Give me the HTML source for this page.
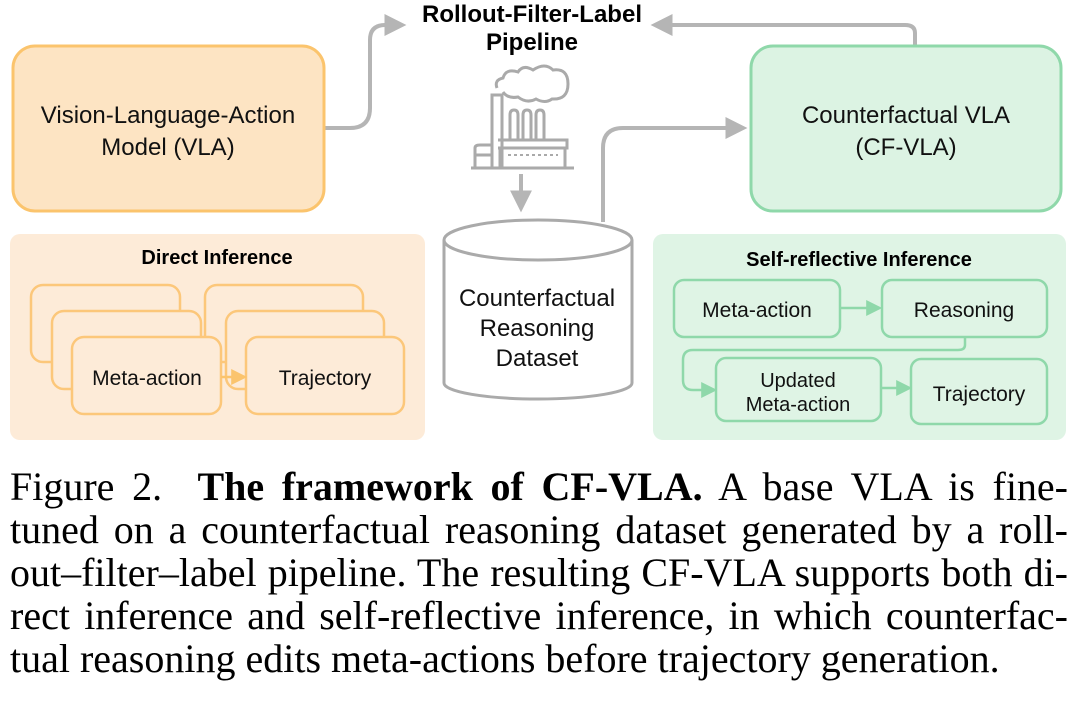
<!DOCTYPE html>
<html><head><meta charset="utf-8"><style>
html,body{margin:0;padding:0;background:#fff;width:1080px;height:710px;overflow:hidden}
svg{position:absolute;left:0;top:0}
.cap{position:absolute;left:10px;width:1058px;font-family:"Liberation Serif",serif;font-size:40px;color:#000;line-height:43px;white-space:nowrap}
.j{text-align:justify;text-align-last:justify;white-space:normal}
</style></head><body>
<svg width="1080" height="460" viewBox="0 0 1080 460" font-family="Liberation Sans, sans-serif">
<defs>
<marker id="agb" viewBox="0 0 10 10" markerWidth="22" markerHeight="22" refX="8" refY="5" orient="auto" markerUnits="userSpaceOnUse"><path d="M0,0 L10,5 L0,10 Z" fill="#b5b5b5"/></marker>
<marker id="ao" viewBox="0 0 10 10" markerWidth="16" markerHeight="16" refX="8" refY="5" orient="auto" markerUnits="userSpaceOnUse"><path d="M0,0 L10,5 L0,10 Z" fill="#fbc46d"/></marker>
<marker id="agr" viewBox="0 0 10 10" markerWidth="16" markerHeight="16" refX="8" refY="5" orient="auto" markerUnits="userSpaceOnUse"><path d="M0,0 L10,5 L0,10 Z" fill="#8fd8aa"/></marker>
</defs>
<path d="M325,128 H350 Q370,128 370,108 V40 Q370,25 385,25 H402" fill="none" stroke="#b5b5b5" stroke-width="4" marker-end="url(#agb)"/>
<path d="M915,45 V33 Q915,25 905,25 H655" fill="none" stroke="#b5b5b5" stroke-width="4" marker-end="url(#agb)"/>
<path d="M603,222 V148 Q603,128 623,128 H743" fill="none" stroke="#b5b5b5" stroke-width="4" marker-end="url(#agb)"/>
<path d="M521,174 V208" fill="none" stroke="#b5b5b5" stroke-width="4" marker-end="url(#agb)"/>
<rect x="13" y="46" width="311" height="165" rx="22" fill="#fde4c3" stroke="#fbc46d" stroke-width="3"/>
<text x="168" y="123" font-size="24" text-anchor="middle" fill="#111">Vision-Language-Action</text>
<text x="168" y="155" font-size="24" text-anchor="middle" fill="#111">Model (VLA)</text>
<rect x="751" y="46" width="310" height="165" rx="22" fill="#dcf3e3" stroke="#8fd8aa" stroke-width="3"/>
<text x="906" y="123" font-size="24" text-anchor="middle" fill="#111">Counterfactual VLA</text>
<text x="906" y="155" font-size="24" text-anchor="middle" fill="#111">(CF-VLA)</text>
<text x="532" y="22" font-size="24" font-weight="bold" text-anchor="middle" fill="#000">Rollout-Filter-Label</text>
<text x="532" y="50" font-size="24" font-weight="bold" text-anchor="middle" fill="#000">Pipeline</text>
<g fill="none" stroke="#aaa" stroke-width="3">
<path d="M471,168 H574"/>
<path d="M492,168 V95 H502 V168"/>
<path d="M497,88 Q494,80 503,78 Q506,68 518,72 Q523,64 533,70 Q545,62 553,70 Q568,68 568,84 Q568,100 552,99 Q545,104 536,99 Q527,104 518,97 Q508,99 503,92"/>
<path d="M510,140 V115 Q510,110 514,110 Q518,110 518,115 V140"/>
<path d="M523,140 V115 Q523,110 527,110 Q531,110 531,115 V140"/>
<path d="M536,140 V115 Q536,110 540,110 Q544,110 544,115 V140"/>
<path d="M498,140 H567 V148 H498 M500,148 V168 M565,148 V168"/>
<path d="M475,168 V148 Q475,145 480,145 H492 M475,155 H492"/>
<path d="M508,155 H558" stroke-dasharray="3,3" stroke-width="2"/>
</g>
<path d="M444,240 V383 A94,16 0 0 0 632,383 V240" fill="#fff" stroke="#aaa" stroke-width="3"/>
<ellipse cx="538" cy="240" rx="94" ry="20" fill="#fff" stroke="#aaa" stroke-width="3"/>
<text x="537" y="306" font-size="24" text-anchor="middle" fill="#111">Counterfactual</text>
<text x="537" y="336" font-size="24" text-anchor="middle" fill="#111">Reasoning</text>
<text x="537" y="366" font-size="24" text-anchor="middle" fill="#111">Dataset</text>
<rect x="10" y="234" width="415" height="206" rx="10" fill="#fdebd8"/>
<text x="217" y="264" font-size="20" font-weight="bold" text-anchor="middle" fill="#000">Direct Inference</text>
<g fill="#fdebd8" stroke="#fcc77a" stroke-width="2.5">
<rect x="31" y="285" width="149" height="77" rx="12"/>
<rect x="52" y="311" width="149" height="78" rx="12"/>
<rect x="205" y="285" width="158" height="77" rx="12"/>
<rect x="226" y="311" width="158" height="78" rx="12"/>
<rect x="72" y="337" width="149" height="77" rx="12"/>
<rect x="246" y="337" width="158" height="77" rx="12"/>
</g>
<path d="M221,377 H244" stroke="#fbc46d" stroke-width="2.5" marker-end="url(#ao)"/>
<text x="147" y="385" font-size="21" text-anchor="middle" fill="#111">Meta-action</text>
<text x="325" y="385" font-size="21" text-anchor="middle" fill="#111">Trajectory</text>
<rect x="653" y="234" width="413" height="206" rx="10" fill="#dff4e5"/>
<text x="859" y="266" font-size="20" font-weight="bold" text-anchor="middle" fill="#000">Self-reflective Inference</text>
<g fill="#dff4e5" stroke="#8fd8aa" stroke-width="2.5">
<rect x="674" y="280" width="166" height="57" rx="10"/>
<rect x="882" y="280" width="165" height="57" rx="10"/>
<rect x="716" y="358" width="165" height="63" rx="10"/>
<rect x="911" y="359" width="136" height="65" rx="10"/>
</g>
<path d="M840,308 H879" fill="none" stroke="#8fd8aa" stroke-width="2.5" marker-end="url(#agr)"/>
<path d="M965,337 V345 Q965,350 958,350 H693 Q683,350 683,360 V380 Q683,390 693,390 H714" fill="none" stroke="#8fd8aa" stroke-width="2.5" marker-end="url(#agr)"/>
<path d="M881,388 H909" fill="none" stroke="#8fd8aa" stroke-width="2.5" marker-end="url(#agr)"/>
<text x="757" y="317" font-size="21" text-anchor="middle" fill="#111">Meta-action</text>
<text x="964" y="317" font-size="21" text-anchor="middle" fill="#111">Reasoning</text>
<text x="798" y="387" font-size="20" text-anchor="middle" fill="#111">Updated</text>
<text x="798" y="411" font-size="20" text-anchor="middle" fill="#111">Meta-action</text>
<text x="979" y="401" font-size="21" text-anchor="middle" fill="#111">Trajectory</text>
</svg>
<div class="cap j" style="top:465px">Figure 2.&nbsp; <b>The framework of CF-VLA.</b> A base VLA is fine-</div>
<div class="cap j" style="top:508px">tuned on a counterfactual reasoning dataset generated by a roll-</div>
<div class="cap j" style="top:551px">out–filter–label pipeline. The resulting CF-VLA supports both di-</div>
<div class="cap j" style="top:594px">rect inference and self-reflective inference, in which counterfac-</div>
<div class="cap" style="top:637px">tual reasoning edits meta-actions before trajectory generation.</div>
</body></html>
